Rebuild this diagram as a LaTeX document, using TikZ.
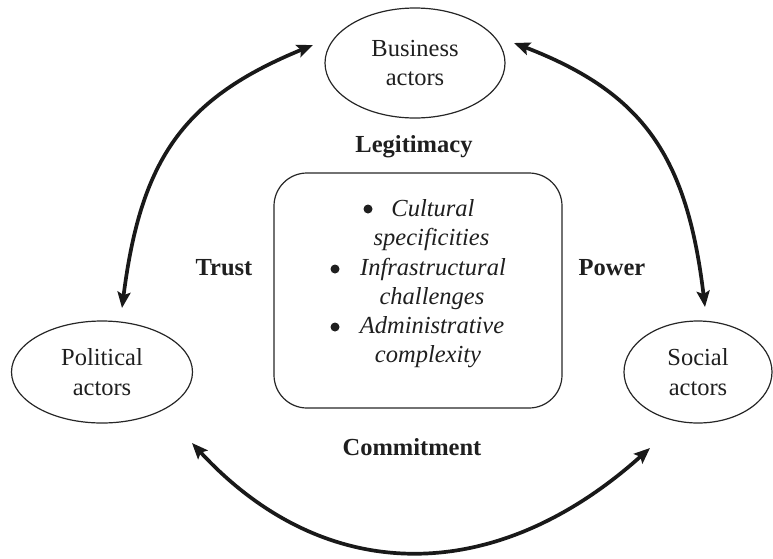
\documentclass[tikz,border=0pt]{standalone}
\usepackage{fontspec}
\setmainfont{Liberation Serif}
\usetikzlibrary{arrows.meta,shapes.geometric}
\begin{document}
\begin{tikzpicture}[x=1pt,y=-1pt,
  every node/.style={font=\fontsize{24.5}{29.5}\selectfont, inner sep=0pt, text=black!88},
  actor/.style={ellipse, draw=black!85, line width=1.2pt, align=center},
  theme/.style={font=\fontsize{24.5}{29.5}\selectfont\bfseries, anchor=base},
  factor/.style={font=\fontsize{24.5}{29.5}\selectfont\itshape, anchor=base},
  dot/.style={circle, fill=black!88, minimum size=9pt},
  link/.style={line width=3.7pt, draw=black!90, {Stealth[length=16pt,width=13pt,inset=3pt]}-{Stealth[length=16pt,width=13pt,inset=3pt]}}
]
\useasboundingbox (0,0) rectangle (773,558);

% the three groups of actors
\node[actor, minimum width=180pt, minimum height=110pt] (biz) at (415,63) {Business\\actors};
\node[actor, minimum width=181pt, minimum height=102pt] (pol) at (102,372) {Political\\actors};
\node[actor, minimum width=148pt, minimum height=102pt] (soc) at (698,372) {Social\\actors};

% central context box
\node[draw=black!85, line width=1.2pt, rounded corners=33pt,
      minimum width=288pt, minimum height=235pt] (ctx) at (418,290.5) {};

% contextual factors
\node[dot] (b1) at (368,209) {};
\node[factor] (f1) at (433,216) {Cultural};
\node[factor] (f1b) at (431.5,245) {specificities};
\node[dot] (b2) at (335,269) {};
\node[factor] (f2) at (433,275) {Infrastructural};
\node[factor] (f2b) at (432,304) {challenges};
\node[dot] (b3) at (335,327) {};
\node[factor] (f3) at (432,333) {Administrative};
\node[factor] (f3b) at (428,362) {complexity};

% relationship labels
\node[theme] (leg) at (414,152) {Legitimacy};
\node[theme] (tru) at (224,275) {Trust};
\node[theme] (pow) at (612,275) {Power};
\node[theme] (com) at (412,455) {Commitment};

% arrow end points near the ellipses
\coordinate (pol-top) at (122,308);
\coordinate (biz-left) at (313,45);
\coordinate (biz-right) at (514,43);
\coordinate (soc-top) at (705,307);
\coordinate (pol-low) at (192,443);
\coordinate (soc-low) at (650,448);

% two-way relationships
\draw[link] (pol-top) .. controls (141,158) and (184,98) .. (biz-left);
\draw[link] (biz-right) .. controls (644,93) and (687,157) .. (soc-top);
\draw[link] (pol-low) .. controls (325,587) and (495,587) .. (soc-low);
\end{tikzpicture}
\end{document}
